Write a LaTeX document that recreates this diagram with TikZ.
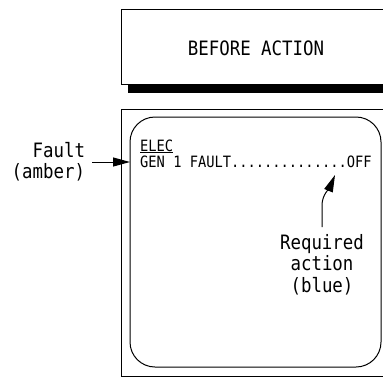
\documentclass[tikz,border=0pt]{standalone}
\usepackage{fontspec}
\setmonofont[FakeStretch=0.88]{DejaVu Sans Mono}
\usetikzlibrary{arrows.meta}
\begin{document}
\begin{tikzpicture}[x=1pt,y=-1pt,
    frame/.style={line width=1pt},
    lbl/.style={font=\ttfamily\fontsize{19.8}{21.5}\selectfont, inner sep=0pt, align=center},
    scr/.style={font=\ttfamily\fontsize{15.6}{16}\selectfont, inner sep=0pt, anchor=base west},
    pointer/.style={-{Triangle[length=17pt,width=9pt]}, line width=1pt}]
      \useasboundingbox (0,0) rectangle (383,378);
      \draw[frame] (383,9) -- (121,9) -- (121,84) -- (383,84);
      \fill (128,84) rectangle (383,93);
      \node[lbl] (title) at (256,48) {BEFORE ACTION};
      \draw[frame] (383,109) -- (121,109) -- (121,376) -- (383,376);
      \draw[frame, rounded corners=25pt] (130,117) rectangle (381,367);
      \node[scr] (elec) at (140,151) {\underline{ELEC}};
      \node[scr] (gen) at (140,167) {GEN 1 FAULT..............OFF};
      \node[lbl, align=right, anchor=north east, outer xsep=7pt] (fault) at (92,142) {Fault\\(amber)};
      \coordinate (ftip) at (130,162);
      \draw[pointer] (fault.east |- ftip) -- (ftip);
      \node[lbl, anchor=north, outer ysep=7pt] (req) at (322,227) {Required\\action\\(blue)};
      \coordinate (rtip) at (335,175);
      \draw[pointer] (req.north) -- ++(0,-22) .. controls +(0,-10) and +(-5,12) .. (rtip);
\end{tikzpicture}
\end{document}
